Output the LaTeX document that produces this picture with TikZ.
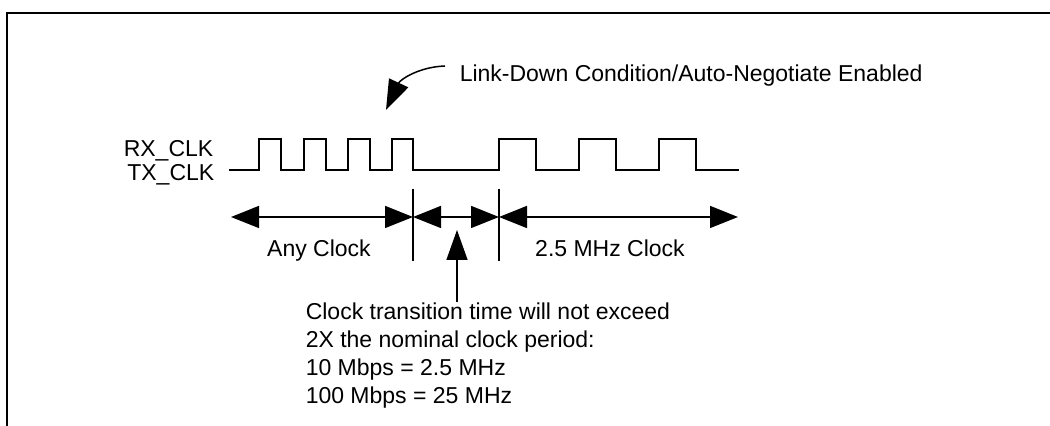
\documentclass[tikz,border=0pt]{standalone}
\usepackage{fontspec}
\setmainfont{Liberation Sans}
\usetikzlibrary{arrows.meta}

\begin{document}
\begin{tikzpicture}
  [x=0.5pt,y=-0.5pt,line width=0.75pt,
   every node/.style={inner sep=0pt,font=\fontsize{11.5}{14}\selectfont},
   dim/.style={{Triangle[length=14pt,width=11pt]}-{Triangle[length=14pt,width=11pt]}},
   pointer/.style={-{Triangle[length=15pt,width=10.5pt]}}]

  \useasboundingbox (0,0) rectangle (1050,426);
  \draw[line width=1pt] (7,426) -- (7,13) -- (1050,13);

  % labels
  \node[anchor=base east] (rx) at (214,157) {RX\_CLK};
  \node[anchor=base east] (tx) at (215,181) {TX\_CLK};
  \node[anchor=base west] (title) at (459,82) {Link-Down Condition/Auto-Negotiate Enabled};
  \node[anchor=base] (any) at (319,257) {Any Clock};
  \node[anchor=base] (slow) at (610,257) {2.5 MHz Clock};
  \node[anchor=north west,align=left] (note) at (305,302)
    {Clock transition time will not exceed\\
     2X the nominal clock period:\\
     10 Mbps = 2.5 MHz\\
     100 Mbps = 25 MHz};

  % clock waveform
  \draw (229,170) -- (259,170) -- (259,139) -- (281,139) -- (281,170)
    -- (304,170) -- (304,139) -- (326,139) -- (326,170)
    -- (348,170) -- (348,139) -- (370,139) -- (370,170)
    -- (392,170) -- (392,139) -- (413,139) -- (413,170)
    -- (499,170) -- (499,139) -- (536,139) -- (536,170)
    -- (579,170) -- (579,139) -- (616,139) -- (616,170)
    -- (659,170) -- (659,139) -- (696,139) -- (696,170) -- (739,170);

  % intervals
  \coordinate (aL) at (231,217);
  \coordinate (d1) at (413,217);
  \coordinate (d2) at (499,217);
  \coordinate (aR) at (738,217);
  \foreach \x in {413,499}
    \draw (\x,189) -- (\x,261);
  \foreach \from/\to in {aL/d1,d1/d2,d2/aR}
    \draw[dim] (\from) -- (\to);

  \coordinate (up) at (457,230);
  \draw[pointer] (note.north -| up) -- (up);

  \coordinate (cstart) at (445,66);
  \coordinate (ctip) at (386,110);
  \draw[pointer] (cstart) .. controls (418,67) and (400,80) .. (ctip);
\end{tikzpicture}
\end{document}
